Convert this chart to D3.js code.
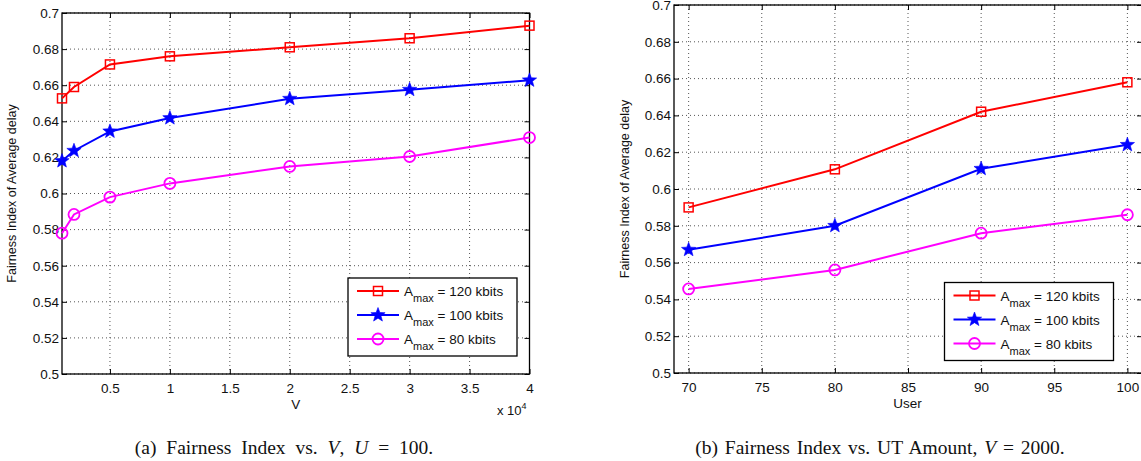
<!DOCTYPE html>
<html lang="en">
<head>
<meta charset="UTF-8">
<title>Fairness Index</title>
<style>
body { margin: 0; background: #fff; }
svg text { font-family: "Liberation Sans", Arial, sans-serif; fill: #111; }
.grid line { stroke: #555; stroke-width: 1; stroke-dasharray: 1,3; }
.caption { font-family: "Liberation Serif", "Times New Roman", serif !important; font-size: 19.5px; }
</style>
</head>
<body>
<script src="https://cdnjs.cloudflare.com/ajax/libs/d3/7.8.5/d3.min.js"></script>
<script>
// chart (a): fairness vs V (x 10^4)
var vValues = [0.1, 0.2, 0.5, 1, 2, 3, 4];
var vA120 = [0.6527, 0.659, 0.6715, 0.676, 0.681, 0.686, 0.693];
var vA100 = [0.618, 0.6237, 0.6344, 0.6418, 0.6525, 0.6575, 0.6627];
var vA80 = [0.578, 0.5884, 0.598, 0.6056, 0.615, 0.6205, 0.631];
var vTicks = [0.5, 1, 1.5, 2, 2.5, 3, 3.5, 4];

// chart (b): fairness vs number of users
var users = [70, 80, 90, 100];
var uA120 = [0.590, 0.6107, 0.642, 0.658];
var uA100 = [0.567, 0.580, 0.611, 0.624];
var uA80 = [0.5457, 0.556, 0.576, 0.586];
var userTicks = [70, 75, 80, 85, 90, 95, 100];

var yTicks = [0.5, 0.52, 0.54, 0.56, 0.58, 0.6, 0.62, 0.64, 0.66, 0.68, 0.7];
var seriesNames = ["120 kbits", "100 kbits", "80 kbits"];

var W = 1141, H = 461;
var svg = d3.select("body").append("svg").attr("width", W).attr("height", H);

function star(cx, cy, R) {
  var r = R * 0.42, pts = [];
  for (var k = 0; k < 10; k++) {
    var a = -Math.PI / 2 + k * Math.PI / 5, rr = k % 2 ? r : R;
    pts.push([cx + rr * Math.cos(a), cy + rr * Math.sin(a)]);
  }
  return "M" + pts.join("L") + "Z";
}

function marker(g, type, color, x, y) {
  if (type == "square") {
    g.append("rect").attr("x", x - 4.5).attr("y", y - 4.5).attr("width", 9).attr("height", 9)
      .attr("fill", "none").attr("stroke", color).attr("stroke-width", 1.5);
  } else if (type == "star") {
    g.append("path").attr("d", star(x, y, 7.5)).attr("fill", color).attr("stroke", color).attr("stroke-width", 0.6);
  } else {
    g.append("circle").attr("cx", x).attr("cy", y).attr("r", 5.5)
      .attr("fill", "none").attr("stroke", color).attr("stroke-width", 1.8);
  }
}

function drawChart(c) {
  var x = d3.scaleLinear().domain(c.xDomain).range([c.left, c.right]);
  var y = d3.scaleLinear().domain([0.5, 0.7]).range([c.bottom, c.top]);
  var g = svg.append("g");

  // dotted grid
  var grid = g.append("g").attr("class", "grid");
  grid.selectAll(".gx").data(c.xTicks).join("line")
    .attr("x1", d => x(d)).attr("x2", d => x(d)).attr("y1", c.top).attr("y2", c.bottom);
  grid.selectAll(".gy").data(yTicks).join("line")
    .attr("x1", c.left).attr("x2", c.right).attr("y1", d => y(d)).attr("y2", d => y(d));

  // axes with inward ticks
  var fmt = d => String(+d.toFixed(2));
  g.append("g").attr("transform", "translate(0," + c.bottom + ")")
    .call(d3.axisBottom(x).tickValues(c.xTicks).tickFormat(fmt).tickSizeInner(-5).tickSizeOuter(0).tickPadding(9));
  g.append("g").attr("transform", "translate(0," + c.top + ")")
    .call(d3.axisTop(x).tickValues(c.xTicks).tickFormat("").tickSizeInner(-5).tickSizeOuter(0));
  var ay = g.append("g").attr("transform", "translate(" + c.left + ",0)")
    .call(d3.axisLeft(y).tickValues(yTicks).tickFormat(fmt).tickSizeInner(-5).tickSizeOuter(0).tickPadding(4));
  g.append("g").attr("transform", "translate(" + c.right + ",0)")
    .call(d3.axisRight(y).tickValues(yTicks).tickFormat("").tickSizeInner(-5).tickSizeOuter(0));
  g.selectAll(".domain").remove();
  g.selectAll(".tick line").attr("stroke", "#000");
  g.selectAll(".tick text").style("font-size", "13.5px").attr("fill", "#111");
  ay.selectAll(".tick text").attr("x", -3);
  g.append("rect").attr("x", c.left).attr("y", c.top)
    .attr("width", c.right - c.left).attr("height", c.bottom - c.top)
    .attr("fill", "none").attr("stroke", "#000").attr("stroke-width", 1.3);

  // series
  var line = d3.line().x(d => x(d[0])).y(d => y(d[1]));
  c.series.forEach(function (s) {
    var pts = c.xs.map((v, i) => [v, s.values[i]]);
    g.append("path").attr("d", line(pts)).attr("fill", "none")
      .attr("stroke", s.color).attr("stroke-width", 2);
    pts.forEach(p => marker(g, s.type, s.color, x(p[0]), y(p[1])));
  });

  // labels
  g.append("text").attr("transform", "translate(" + c.yLabelX + "," + ((c.top + c.bottom) / 2) + ") rotate(-90)")
    .attr("text-anchor", "middle").style("font-size", "12.5px").text("Fairness Index of Average delay");
  g.append("text").attr("x", (c.left + Math.min(c.right, W)) / 2).attr("y", c.bottom + 35)
    .attr("text-anchor", "middle").style("font-size", "13.5px").text(c.xLabel);

  // legend
  var lg = g.append("g");
  lg.append("rect").attr("x", c.legend[0]).attr("y", c.legend[1]).attr("width", 169).attr("height", 78)
    .attr("fill", "#fff").attr("stroke", "#000").attr("stroke-width", 1.3);
  c.series.forEach(function (s, i) {
    var ly = c.legend[1] + 13 + i * 24, lx = c.legend[0] + 9;
    lg.append("line").attr("x1", lx).attr("x2", lx + 42).attr("y1", ly).attr("y2", ly)
      .attr("stroke", s.color).attr("stroke-width", 2);
    marker(lg, s.type, s.color, lx + 21, ly);
    var t = lg.append("text").attr("x", lx + 47).attr("y", ly + 5).style("font-size", "13.5px");
    t.append("tspan").text("A");
    t.append("tspan").attr("dy", 6).style("font-size", "11px").text("max");
    t.append("tspan").attr("dy", -6).text(" = " + seriesNames[i]);
  });
  return g;
}

var colors = ["#ff0000", "#0000ff", "#ff00ff"];
var types = ["square", "star", "circle"];

var ga = drawChart({
  left: 62, right: 529.5, top: 13, bottom: 374,
  xDomain: [0.1, 4], xTicks: vTicks, xs: vValues, xLabel: "V",
  yLabelX: 16, legend: [348, 278],
  series: [vA120, vA100, vA80].map((v, i) => ({ values: v, color: colors[i], type: types[i] }))
});
var ex = ga.append("text").attr("x", 497).attr("y", 415).style("font-size", "13px");
ex.append("tspan").text("x 10");
ex.append("tspan").attr("dy", -6).style("font-size", "9px").text("4");

drawChart({
  left: 674, right: 1142, top: 5, bottom: 373,
  xDomain: [69, 101], xTicks: userTicks, xs: users, xLabel: "User",
  yLabelX: 629, legend: [944.5, 282.5],
  series: [uA120, uA100, uA80].map((v, i) => ({ values: v, color: colors[i], type: types[i] }))
});

// captions
var capA = svg.append("text").attr("class", "caption").attr("x", 284).attr("y", 454)
  .attr("text-anchor", "middle").style("word-spacing", "5px");
capA.append("tspan").text("(a) Fairness Index vs. ");
capA.append("tspan").style("font-style", "italic").text("V");
capA.append("tspan").text(", ");
capA.append("tspan").style("font-style", "italic").text("U");
capA.append("tspan").text(" = 100.");

var capB = svg.append("text").attr("class", "caption").attr("x", 880).attr("y", 454)
  .attr("text-anchor", "middle").style("word-spacing", "2px");
capB.append("tspan").text("(b) Fairness Index vs. UT Amount, ");
capB.append("tspan").style("font-style", "italic").text("V");
capB.append("tspan").text(" = 2000.");
</script>
</body>
</html>
